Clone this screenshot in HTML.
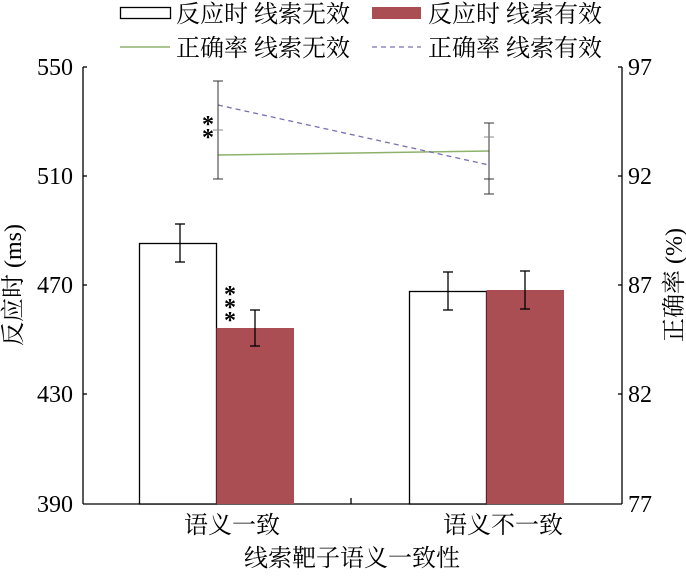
<!DOCTYPE html>
<html><head><meta charset="utf-8"><style>
html,body{margin:0;padding:0;background:#fff;}
svg text{font-family:"Liberation Serif","Noto Serif CJK SC","Noto Sans CJK SC",serif;fill:#000;}
</style></head><body>
<svg width="686" height="571" viewBox="0 0 686 571" xmlns="http://www.w3.org/2000/svg">
<!-- legend -->
<rect x="120.5" y="7.5" width="50" height="11" fill="#fff" stroke="#000" stroke-width="1.3"/>
<text x="176" y="22" font-size="24">反应时 线索无效</text>
<rect x="372" y="7" width="49" height="12" fill="#ab4e53"/>
<text x="428" y="22" font-size="24">反应时 线索有效</text>
<line x1="120" y1="47" x2="170" y2="47" stroke="#8db26a" stroke-width="1.5"/>
<text x="176" y="56" font-size="24">正确率 线索无效</text>
<line x1="372" y1="47" x2="421" y2="47" stroke="#7a6fb0" stroke-width="1.3" stroke-dasharray="5,4"/>
<text x="428" y="56" font-size="24">正确率 线索有效</text>
<!-- axes -->
<line x1="83" y1="67" x2="83" y2="504" stroke="#000" stroke-width="1.3"/>
<line x1="622" y1="67" x2="622" y2="504" stroke="#000" stroke-width="1.3"/>
<line x1="83" y1="504" x2="622" y2="504" stroke="#000" stroke-width="1.3"/>
<g stroke="#000" stroke-width="1.3">
<line x1="83" y1="67" x2="87" y2="67"/><line x1="83" y1="176" x2="87" y2="176"/><line x1="83" y1="285" x2="87" y2="285"/><line x1="83" y1="394" x2="87" y2="394"/>
<line x1="618" y1="67" x2="622" y2="67"/><line x1="618" y1="176" x2="622" y2="176"/><line x1="618" y1="285" x2="622" y2="285"/><line x1="618" y1="394" x2="622" y2="394"/>
<line x1="351" y1="498" x2="351" y2="504"/>
</g>
<g font-size="24" text-anchor="end">
<text x="73" y="75">550</text><text x="73" y="184">510</text><text x="73" y="293">470</text><text x="73" y="402">430</text><text x="73" y="512">390</text>
</g>
<g font-size="24">
<text x="628" y="75">97</text><text x="628" y="184">92</text><text x="628" y="293">87</text><text x="628" y="402">82</text><text x="628" y="512">77</text>
</g>
<text transform="translate(21,285) rotate(-90)" font-size="24" text-anchor="middle">反应时 (ms)</text>
<text transform="translate(682,285) rotate(-90)" font-size="24" text-anchor="middle">正确率 (%)</text>
<text x="232" y="533" font-size="24" text-anchor="middle">语义一致</text>
<text x="503" y="533" font-size="24" text-anchor="middle">语义不一致</text>
<text x="352" y="566" font-size="24" text-anchor="middle">线索靶子语义一致性</text>
<!-- bars -->
<rect x="139.5" y="243.5" width="77" height="260.5" fill="#fff" stroke="#000" stroke-width="1.3"/>
<rect x="216.5" y="328" width="77.5" height="176" fill="#ab4e53"/>
<rect x="409.5" y="291.5" width="77" height="212.5" fill="#fff" stroke="#000" stroke-width="1.3"/>
<rect x="486.5" y="290" width="77.5" height="214" fill="#ab4e53"/>
<g stroke="#000" stroke-width="1.3">
<line x1="180" y1="224" x2="180" y2="262"/><line x1="175" y1="224" x2="185" y2="224"/><line x1="175" y1="262" x2="185" y2="262"/>
<line x1="255" y1="310" x2="255" y2="346"/><line x1="250" y1="310" x2="260" y2="310"/><line x1="250" y1="346" x2="260" y2="346"/>
<line x1="448" y1="272" x2="448" y2="310"/><line x1="443" y1="272" x2="453" y2="272"/><line x1="443" y1="310" x2="453" y2="310"/>
<line x1="525" y1="271" x2="525" y2="309"/><line x1="520" y1="271" x2="530" y2="271"/><line x1="520" y1="309" x2="530" y2="309"/>
</g>
<g font-size="24" font-weight="bold" text-anchor="middle">
<text x="230" y="302">*</text><text x="230" y="315">*</text><text x="230" y="328">*</text>
<text x="208" y="132">*</text><text x="208" y="145">*</text>
</g>
<!-- lines -->
<line x1="218" y1="155" x2="489" y2="151" stroke="#8db26a" stroke-width="1.5"/>
<line x1="218" y1="105" x2="489" y2="165" stroke="#7a6fb0" stroke-width="1.3" stroke-dasharray="5,4"/>
<g stroke="#333" stroke-width="1">
<line x1="218" y1="81" x2="218" y2="179"/><line x1="213" y1="81" x2="223" y2="81"/><line x1="213" y1="179" x2="223" y2="179"/><line x1="213" y1="130" x2="223" y2="130" stroke="#888"/>
<line x1="489" y1="123" x2="489" y2="194"/><line x1="484" y1="123" x2="494" y2="123"/><line x1="484" y1="194" x2="494" y2="194"/><line x1="484" y1="137" x2="494" y2="137" stroke="#888"/><line x1="484" y1="179" x2="494" y2="179"/>
</g>
</svg>
</body></html>
